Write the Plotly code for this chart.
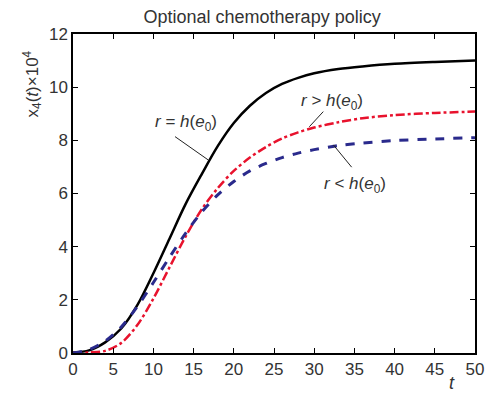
import plotly.graph_objects as go

t = [0, 2, 4, 6, 8, 10, 12, 14, 16, 18, 20, 22, 24, 26, 28, 30, 33, 36, 40, 45, 50]
black_eq = [0.02, 0.1, 0.4, 0.92, 1.8, 3.0, 4.3, 5.6, 6.72, 7.78, 8.65, 9.3, 9.78, 10.12, 10.35, 10.52, 10.68, 10.78, 10.88, 10.95, 11.0]
red_gt = [0.0, 0.02, 0.08, 0.38, 1.05, 2.05, 3.22, 4.38, 5.4, 6.2, 6.85, 7.35, 7.75, 8.07, 8.3, 8.48, 8.68, 8.83, 8.95, 9.03, 9.08]
blue_lt = [0.0, 0.13, 0.45, 0.98, 1.75, 2.65, 3.6, 4.5, 5.3, 5.95, 6.45, 6.85, 7.13, 7.35, 7.52, 7.65, 7.8, 7.9, 7.99, 8.05, 8.1]

x_ticks = [0, 5, 10, 15, 20, 25, 30, 35, 40, 45, 50]
y_ticks = [0, 2, 4, 6, 8, 10, 12]

FONT = "Liberation Sans, Arial, sans-serif"
TXT = "#333333"

fig = go.Figure()
fig.add_trace(go.Scatter(x=t, y=black_eq, mode="lines", line=dict(color="#000000", width=2.5, shape="spline", smoothing=0.9), showlegend=False))
fig.add_trace(go.Scatter(x=t, y=red_gt, mode="lines", line=dict(color="#e8122d", width=2.5, dash="dashdot", shape="spline", smoothing=0.9), showlegend=False))
fig.add_trace(go.Scatter(x=t, y=blue_lt, mode="lines", line=dict(color="#2a2a8c", width=3, dash="dash", shape="spline", smoothing=0.9), showlegend=False))

labels = [
    ("<i>r</i> = <i>h</i>(<i>e</i><sub>0</sub>)", 14.1, 8.64, (12.69, 8.14, 16.83, 7.26)),
    ("<i>r</i> > <i>h</i>(<i>e</i><sub>0</sub>)", 32.2, 9.45, (31.13, 9.08, 29.39, 8.51)),
    ("<i>r</i> < <i>h</i>(<i>e</i><sub>0</sub>)", 35.1, 6.32, (34.66, 6.99, 32.38, 7.83)),
]
for txt, lx, ly, (x0, y0, x1, y1) in labels:
    fig.add_annotation(x=lx, y=ly, text=txt, showarrow=False, font=dict(family=FONT, size=17, color=TXT))
    fig.add_shape(type="line", x0=x0, y0=y0, x1=x1, y1=y1, line=dict(color="#222222", width=1))

# x-axis title "t"
fig.add_annotation(x=47.1, y=-0.094, xref="x", yref="paper", text="<i>t</i>", showarrow=False,
                   font=dict(family=FONT, size=18, color=TXT), yanchor="middle")
# y-axis title, placed near the top as in the reference
fig.add_annotation(x=-0.102, y=0.845, xref="paper", yref="paper", text="x<sub>4</sub>(<i>t</i>)×10<sup>4</sup>",
                   showarrow=False, textangle=-90, font=dict(family=FONT, size=17, color=TXT),
                   xanchor="center", yanchor="middle")

axis_common = dict(showline=True, linecolor="#000000", linewidth=1.5, mirror="ticks", ticks="inside",
                   ticklen=5, tickcolor="#000000", tickwidth=1.2, showgrid=False, zeroline=False,
                   tickfont=dict(family=FONT, size=17, color=TXT))

fig.update_xaxes(range=[0, 50], tickvals=x_ticks, **axis_common)
fig.update_yaxes(range=[0, 12], tickvals=y_ticks, **axis_common)

fig.update_layout(
    width=489, height=399,
    margin=dict(l=73, r=14, t=34, b=46, autoexpand=False),
    paper_bgcolor="white", plot_bgcolor="white",
    title=dict(text="Optional chemotherapy policy", x=0.536, xanchor="center", y=0.957, yanchor="middle",
               font=dict(family=FONT, size=18, color=TXT)),
)

fig.write_html("out.html", config={"displayModeBar": False},
               post_script="document.body.style.margin='0';document.body.style.overflow='hidden';")
